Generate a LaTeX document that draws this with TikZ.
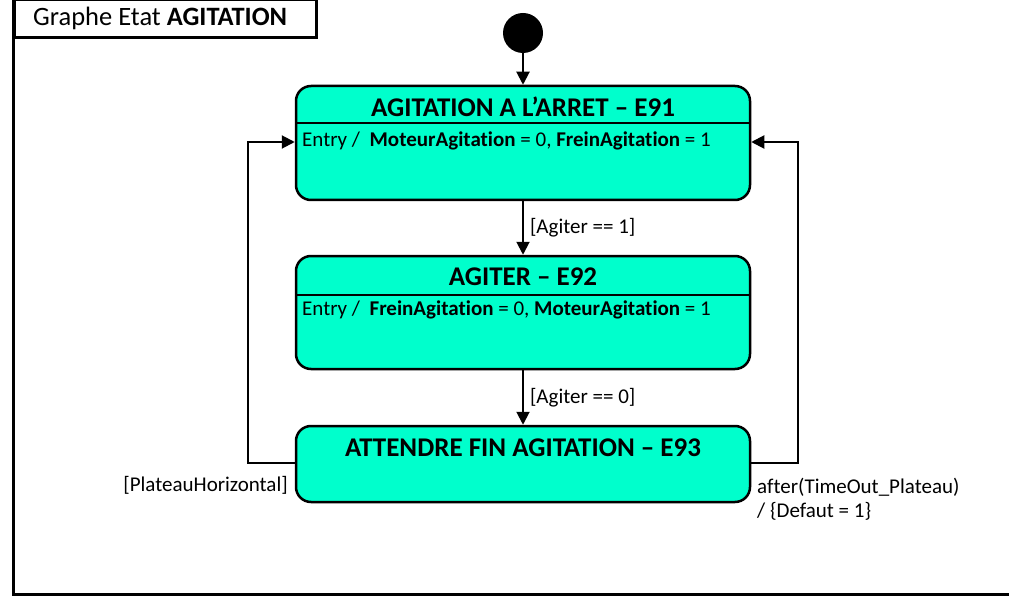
\documentclass[tikz,border=0pt]{standalone}
\usepackage{fontspec}
\setmainfont{Carlito}[Ligatures=NoCommon]
\usetikzlibrary{arrows.meta}
\definecolor{stfill}{RGB}{0,255,204}
\tikzset{
  x=1pt, y=-1pt,
  stbox/.style={draw=black, line width=2.5pt, fill=stfill, rounded corners=15pt, minimum width=454pt, inner sep=0pt},
  sttitle/.style={font=\fontsize{27}{31}\selectfont\bfseries, inner sep=0pt},
  body/.style={font=\fontsize{21}{25}\selectfont, inner sep=0pt},
  conn/.style={line width=2pt, -{Triangle[length=13pt,width=13pt]}},
  frame/.style={line width=3pt}
}
\begin{document}
\begin{tikzpicture}
\useasboundingbox (0,0) rectangle (1009,596);
% frame
\draw[frame] (13,-2) -- (13,594) -- (1011,594);
\node[draw, frame, minimum width=302pt, minimum height=38pt, anchor=north west, inner sep=0pt] (tbox) at (13,-2) {};
\node[anchor=west, inner sep=0pt, font=\fontsize{26.5}{30}\selectfont] (ttext) at (33,18) {Graphe Etat \textbf{AGITATION}};
% initial
\node[circle, fill=black, minimum size=40pt, inner sep=0pt] (init) at (523,33) {};
% states
\node[stbox, minimum height=114pt] (e91) at (523,143) {};
\node[stbox, minimum height=113pt] (e92) at (523,312.5) {};
\node[stbox, minimum height=76pt] (e93) at (523,464) {};
\draw[line width=1.5pt] (297,123) -- (749,123);
\draw[line width=1.5pt] (297,295) -- (749,295);
\node[sttitle] (t91) at (523,107) {AGITATION A L’ARRET – E91};
\node[sttitle] (t92) at (523,277) {AGITER – E92};
\node[sttitle] (t93) at (523,448) {ATTENDRE FIN AGITATION – E93};
\node[body, anchor=west] (en91) at (302,141) {Entry / \ \textbf{MoteurAgitation} = 0, \textbf{FreinAgitation} = 1};
\node[body, anchor=west] (en92) at (302,310) {Entry / \ \textbf{FreinAgitation} = 0, \textbf{MoteurAgitation} = 1};
% connectors
\draw[conn] (init) -- (e91);
\draw[conn] (e91) -- node[body, right=6pt] (g1) {[Agiter == 1]} (e92);
\draw[conn] (e92) -- node[body, right=6pt] (g0) {[Agiter == 0]} (e93);
\coordinate (lb) at (248,463);
\coordinate (lt) at (248,142);
\coordinate (rb) at (798,463);
\coordinate (rt) at (798,142);
\draw[conn] (e93.west |- lb) -- (lb) -- (lt) -- (e91.west |- lt);
\draw[conn] (e93.east |- rb) -- (rb) -- (rt) -- (e91.east |- rt);
\node[body, anchor=east] (gp) at (288,485) {[PlateauHorizontal]};
\node[body, anchor=north west, align=left, font=\fontsize{21}{24}\selectfont] (ga) at (757,478) {after(TimeOut\_Plateau)\\/ \{Defaut = 1\}};
\end{tikzpicture}
\end{document}
